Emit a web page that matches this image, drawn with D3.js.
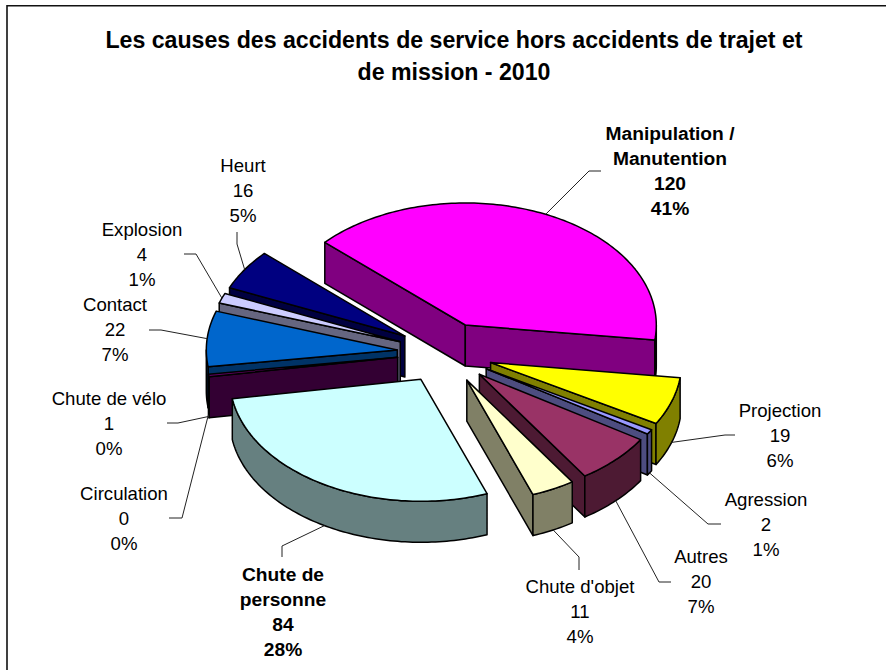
<!DOCTYPE html>
<html><head><meta charset="utf-8">
<style>html,body{margin:0;padding:0;background:#fff}svg{display:block}text{font-family:"Liberation Sans",Arial,sans-serif;fill:#000}</style>
<script src="https://cdnjs.cloudflare.com/ajax/libs/d3/7.8.5/d3.min.js"></script>
</head><body><svg id="c" width="886" height="670"></svg>
<script>
const categories=["Agression","Autres","Chute d'objet","Chute de personne","Chute de vélo","Circulation","Contact","Explosion","Heurt","Manipulation / Manutention","Projection"];
const values=[2,20,11,84,1,0,22,4,16,120,19];
const percents=["1%","7%","4%","28%","0%","0%","7%","1%","5%","41%","6%"];
const colors=["#9999FF","#993366","#FFFFCC","#CCFFFF","#660066","#FF8080","#0066CC","#CCCCFF","#000080","#FF00FF","#FFFF00"];
const titleLines=["Les causes des accidents de service hors accidents de trajet et","de mission - 2010"];
const boldLabels=["Chute de personne","Manipulation / Manutention"];
// label layout: text centre x, first line y, wrapped name, leader knee points
const labelLayout={
 "Agression":{x:766,y:499,name:["Agression"],leader:[[721,524],[708,524]]},
 "Autres":{x:701,y:556,name:["Autres"],leader:[[671,582],[659,582]]},
 "Chute d'objet":{x:580,y:586,name:["Chute d'objet"],leader:[[579,570],[579,557]]},
 "Chute de personne":{x:283,y:574,name:["Chute de","personne"],leader:[[282,557],[282,546]]},
 "Chute de vélo":{x:109,y:398,name:["Chute de vélo"],leader:[[167,423],[178,423]]},
 "Circulation":{x:124,y:493,name:["Circulation"],leader:[[169,518],[182,518]]},
 "Contact":{x:115,y:304,name:["Contact"],leader:[[149,330],[161,330]]},
 "Explosion":{x:142,y:229,name:["Explosion"],leader:[[184,254],[196,254]]},
 "Heurt":{x:243,y:165,name:["Heurt"],leader:[[237,232],[237,244]]},
 "Manipulation / Manutention":{x:670,y:133,name:["Manipulation /","Manutention"],leader:[[601,171],[589,171]]},
 "Projection":{x:780,y:410,name:["Projection"],leader:[[735,435],[725,435]]}
};
const cx=445.1,cy=352.8,R=191,B=122,explode=48,depth=41;
const startDeg=120,lineH=25,labelSize=18.6,boldSize=19.2,titleSize=23.15;

const svg=d3.select("#c");
svg.append("path").attr("d","M7,670V5.8H886").attr("fill","none").attr("stroke","#111").attr("stroke-width",1.6);
svg.selectAll(".title").data(titleLines).join("text").attr("class","title")
 .attr("x",454).attr("y",(d,i)=>48+i*32).attr("text-anchor","middle")
 .attr("font-size",titleSize).attr("font-weight","bold").text(d=>d);

const pie=d3.pie().sort(null).value(d=>d).startAngle(startDeg*Math.PI/180).endAngle((startDeg+360)*Math.PI/180);
const arcs=pie(values).map((a,i)=>({...a,name:categories[i],pct:percents[i],color:colors[i]}));
const line=d3.line();
const ex=d3.scaleLinear().domain([-1,1]).range([-R,R]);
const ey=d3.scaleLinear().domain([-1,1]).range([B,-B]);
function apex(a){const m=(a.startAngle+a.endAngle)/2;
  return [cx+ex(Math.sin(m))*explode/R, cy+ey(Math.cos(m))*explode/R];}
function rim(a,t){const o=apex(a);return [o[0]+ex(Math.sin(t)),o[1]+ey(Math.cos(t))];}
function arcPts(a,t0,t1){const n=Math.max(2,Math.ceil((t1-t0)/0.02));
  return d3.range(n+1).map(i=>rim(a,t0+(t1-t0)*i/n));}
const down=p=>[p[0],p[1]+depth];
function wall(p,q){return line([p,q,down(q),down(p)])+"Z";}
const stroke={stroke:"#000","stroke-width":1.5,"stroke-linejoin":"round"};
function dark(c){const r=d3.rgb(c);return d3.rgb(r.r/2,r.g/2,r.b/2).formatHex();}

const order=arcs.filter(a=>a.value>0).sort((a,b)=>Math.cos((b.startAngle+b.endAngle)/2)-Math.cos((a.startAngle+a.endAngle)/2));
const gPie=svg.append("g");
order.forEach(a=>{
  const g=gPie.append("g");
  const o=apex(a),p0=rim(a,a.startAngle),p1=rim(a,a.endAngle),w=dark(a.color);
  const faces=[];
  if(o[0]>p0[0]) faces.push(wall(o,p0));
  if(p1[0]>o[0]) faces.push(wall(p1,o));
  // outer rim: lower half of the ellipse, for each turn it crosses
  [Math.PI,3*Math.PI].forEach(c=>{
    const t0=Math.max(a.startAngle,c-Math.PI/2),t1=Math.min(a.endAngle,c+Math.PI/2);
    if(t1>t0){const top=arcPts(a,t0,t1);faces.push(line(top.concat(top.slice().reverse().map(down)))+"Z");}
  });
  faces.forEach(d=>{const f=g.append("path").attr("d",d).attr("fill",w);Object.entries(stroke).forEach(([k,v])=>f.attr(k,v));});
  const t=g.append("path").attr("d",line([o].concat(arcPts(a,a.startAngle,a.endAngle)))+"Z").attr("fill",a.color);
  Object.entries(stroke).forEach(([k,v])=>t.attr(k,v));
});

// labels and leaders
arcs.forEach(a=>{
  const L=labelLayout[a.name],m=(a.startAngle+a.endAngle)/2;
  let e=rim(a,m); if(Math.cos(m)<0) e=down(e);
  svg.append("path").attr("d",line(L.leader.concat([e]))).attr("fill","none").attr("stroke","#222").attr("stroke-width",1);
  const bold=boldLabels.includes(a.name);
  const rows=L.name.concat([String(a.value),a.pct]);
  svg.selectAll(null).data(rows).join("text").attr("x",L.x).attr("y",(d,i)=>L.y+i*lineH+6.5)
    .attr("text-anchor","middle").attr("font-size",bold?boldSize:labelSize).attr("font-weight",bold?"bold":"normal").text(d=>d);
});
</script></body></html>
